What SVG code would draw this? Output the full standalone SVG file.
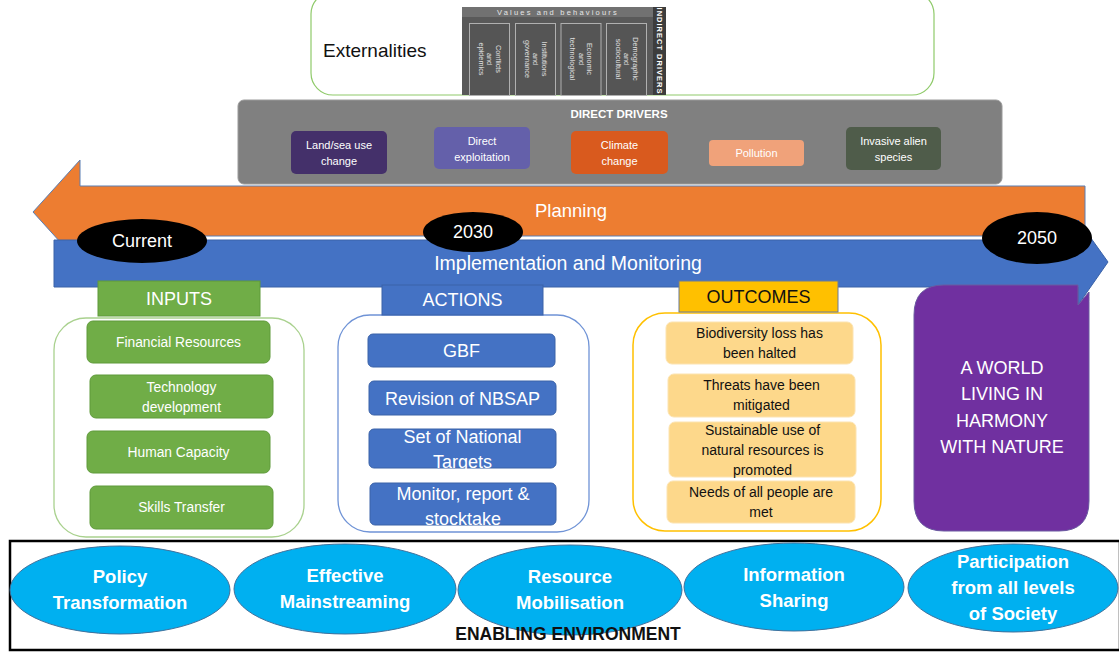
<svg xmlns="http://www.w3.org/2000/svg" width="1119" height="652" viewBox="0 0 1119 652">
<style>
text{font-family:"Liberation Sans",Arial,sans-serif}
.w{fill:#fff}
.dd{font-size:11px;fill:#fff;text-anchor:middle}
.ind{font-size:7.3px;fill:#e0e0e0;text-anchor:middle;dominant-baseline:central}
.inb{fill:#555;stroke:#b0b0b0;stroke-width:1}
.gin{fill:#70ad47;stroke:#5f9a3a;stroke-width:1}
.ain{fill:#4472c4;stroke:#3a62a8;stroke-width:1}
.oin{fill:#fdd88b;stroke:#fce3b0;stroke-width:1}
.t14{font-size:13.8px;fill:#fff;text-anchor:middle}
.t17{font-size:18px;fill:#fff;text-anchor:middle}
.t13{font-size:14px;fill:#111;text-anchor:middle}
.ell{fill:#00b0f0;stroke:#41719c;stroke-width:1}
.eb{font-size:18.5px;font-weight:bold;fill:#fff;text-anchor:middle}
.blk{fill:#000}
.yr{font-size:18px;fill:#fff;text-anchor:middle}
</style>

<g id="externalities">
<rect x="311" y="-8" width="623" height="103" rx="22" fill="#fff" stroke="#8fca6a" stroke-width="1.2"/>
<text x="323" y="57" font-size="19" fill="#111">Externalities</text>
</g>

<g id="indirect-drivers">
<rect x="462" y="7" width="204" height="88" fill="#595959"/>
<rect x="462" y="7" width="191" height="10" fill="#717171"/>
<rect x="653" y="7" width="13" height="88" fill="#3d3d3d"/>
<text x="558" y="14.5" font-size="7.5" fill="#e6e6e6" text-anchor="middle" letter-spacing="2.2">Values and behaviours</text>
<text transform="translate(659.5,51) rotate(90)" font-size="7.5" font-weight="bold" fill="#fff" text-anchor="middle" dominant-baseline="central" letter-spacing="1">INDIRECT DRIVERS</text>
<rect class="inb" x="469.5" y="23.5" width="40" height="72"/>
<rect class="inb" x="515.5" y="23.5" width="40" height="72"/>
<rect class="inb" x="561" y="23.5" width="40" height="72"/>
<rect class="inb" x="606.5" y="23.5" width="40" height="72"/>
<g transform="translate(489.5,59) rotate(90)"><text class="ind" y="-8.5">Conflicts</text><text class="ind" y="0">and</text><text class="ind" y="8.5">epidemics</text></g>
<g transform="translate(535.5,59) rotate(90)"><text class="ind" y="-8.5">Institutions</text><text class="ind" y="0">and</text><text class="ind" y="8.5">governance</text></g>
<g transform="translate(581,59) rotate(90)"><text class="ind" y="-8.5">Economic</text><text class="ind" y="0">and</text><text class="ind" y="8.5">technological</text></g>
<g transform="translate(626.5,59) rotate(90)"><text class="ind" y="-8.5">Demographic</text><text class="ind" y="0">and</text><text class="ind" y="8.5">sociocultural</text></g>
</g>

<g id="direct-drivers">
<rect x="238" y="100" width="764" height="84" rx="6" fill="#808080" stroke="#9a9a9a" stroke-width="1"/>
<text x="619" y="118" font-size="11.5" font-weight="bold" fill="#fff" text-anchor="middle">DIRECT DRIVERS</text>
<rect x="291" y="131" width="96" height="43" rx="5" fill="#44306a"/>
<text class="dd" x="339" y="149">Land/sea use</text><text class="dd" x="339" y="165">change</text>
<rect x="434" y="127" width="96" height="42" rx="5" fill="#6460aa"/>
<text class="dd" x="482" y="145">Direct</text><text class="dd" x="482" y="161">exploitation</text>
<rect x="571" y="131" width="97" height="43" rx="5" fill="#d95a1e"/>
<text class="dd" x="619.5" y="149">Climate</text><text class="dd" x="619.5" y="165">change</text>
<rect x="709" y="140" width="95" height="26" rx="4" fill="#f0a27a"/>
<text class="dd" x="756.5" y="157">Pollution</text>
<rect x="846" y="127" width="95" height="43" rx="5" fill="#4f5c4a"/>
<text class="dd" x="893.5" y="145">Invasive alien</text><text class="dd" x="893.5" y="161">species</text>
</g>

<g id="connectors">
<g id="planning-arrow">
<path d="M1085,186 L80,186 L80,160 L33,212 L80,264 L80,236 L1085,236 Z" fill="#ed7d31" stroke="#5b7fb3" stroke-width="1"/>
<text class="w" x="571" y="217" font-size="18.5" text-anchor="middle">Planning</text>
</g>
<g id="implementation-arrow">
<path d="M54,240 L1078,240 L1078,220 L1108,262 L1078,305 L1078,287 L54,287 Z" fill="#4472c4" stroke="#3a62a8" stroke-width="1"/>
<text class="w" x="568" y="270" font-size="19.5" text-anchor="middle">Implementation and Monitoring</text>
</g>
</g>

<g id="current">
<ellipse class="blk" cx="142" cy="241" rx="65" ry="22"/>
<text class="yr" x="142" y="247">Current</text>
</g>
<g id="y2030">
<ellipse class="blk" cx="473" cy="232" rx="50" ry="20"/>
<text class="yr" x="473" y="238">2030</text>
</g>
<g id="y2050">
<ellipse class="blk" cx="1037" cy="238" rx="55" ry="26"/>
<text class="yr" x="1037" y="244">2050</text>
</g>

<g id="inputs">
<rect x="54" y="318" width="250" height="219" rx="32" fill="#fff" stroke="#a9d18e" stroke-width="1.3"/>
<rect x="98" y="281" width="162" height="35" fill="#70ad47" stroke="#5f9a3a" stroke-width="1"/>
<text class="t17" x="179" y="305">INPUTS</text>
<rect class="gin" x="87" y="321" width="183" height="42" rx="6"/>
<text class="t14" x="178.5" y="347">Financial Resources</text>
<rect class="gin" x="90" y="375" width="183" height="43" rx="6"/>
<text class="t14" x="181.5" y="392">Technology</text><text class="t14" x="181.5" y="412">development</text>
<rect class="gin" x="87" y="431" width="183" height="42" rx="6"/>
<text class="t14" x="178.5" y="457">Human Capacity</text>
<rect class="gin" x="90" y="486" width="183" height="43" rx="6"/>
<text class="t14" x="181.5" y="512">Skills Transfer</text>
</g>

<g id="actions">
<rect x="338" y="315" width="251" height="217" rx="32" fill="#fff" stroke="#6f93d6" stroke-width="1.3"/>
<rect x="382" y="285" width="161" height="30" fill="#4472c4" stroke="#3a62a8" stroke-width="1"/>
<text class="t17" x="462.5" y="306">ACTIONS</text>
<rect class="ain" x="368" y="334" width="187" height="33" rx="5"/>
<text class="t17" x="461.5" y="357">GBF</text>
<rect class="ain" x="369" y="381" width="187" height="34" rx="5"/>
<text class="t17" x="462.5" y="405">Revision of NBSAP</text>
<rect class="ain" x="369" y="429" width="187" height="39" rx="5"/>
<text class="t17" x="462.5" y="443">Set of National</text><text class="t17" x="462.5" y="468">Targets</text>
<rect class="ain" x="370" y="483" width="186" height="42" rx="5"/>
<text class="t17" x="463" y="500">Monitor, report &amp;</text><text class="t17" x="463" y="525">stocktake</text>
</g>

<g id="outcomes">
<rect x="633" y="313" width="248" height="218" rx="32" fill="#fff" stroke="#ffc000" stroke-width="1.5"/>
<rect x="679" y="281" width="159" height="31" fill="#ffc000" stroke="#6b7a99" stroke-width="1"/>
<text x="758.5" y="303" font-size="18" fill="#111" text-anchor="middle">OUTCOMES</text>
<rect class="oin" x="666" y="322" width="187" height="42" rx="6"/>
<text class="t13" x="759.5" y="338">Biodiversity loss has</text><text class="t13" x="759.5" y="358">been halted</text>
<rect class="oin" x="668" y="374" width="187" height="43" rx="6"/>
<text class="t13" x="761.5" y="390">Threats have been</text><text class="t13" x="761.5" y="410">mitigated</text>
<rect class="oin" x="669" y="422" width="187" height="55" rx="6"/>
<text class="t13" x="762.5" y="435">Sustainable use of</text><text class="t13" x="762.5" y="455">natural resources is</text><text class="t13" x="762.5" y="475">promoted</text>
<rect class="oin" x="667" y="481" width="188" height="42" rx="6"/>
<text class="t13" x="761" y="497">Needs of all people are</text><text class="t13" x="761" y="517">met</text>
</g>

<g id="vision">
<path d="M944,285 L1078,285 L1078,305 L1089,292 Q1089,300 1089,315 L1089,501 Q1089,531 1059,531 L944,531 Q914,531 914,501 L914,315 Q914,285 944,285 Z" fill="#7030a0" stroke="#6a5aa0" stroke-width="1"/>
<text class="t17" x="1002" y="374">A WORLD</text>
<text class="t17" x="1002" y="400">LIVING IN</text>
<text class="t17" x="1002" y="427">HARMONY</text>
<text class="t17" x="1002" y="453">WITH NATURE</text>
</g>

<g id="enabling-environment">
<rect x="10" y="541" width="1110" height="109" fill="#fff" stroke="#000" stroke-width="2.5"/>
<g id="policy"><ellipse class="ell" cx="120" cy="590" rx="110" ry="44"/>
<text class="eb" x="120" y="583">Policy</text><text class="eb" x="120" y="609">Transformation</text></g>
<g id="mainstreaming"><ellipse class="ell" cx="345" cy="589" rx="111" ry="45"/>
<text class="eb" x="345" y="582">Effective</text><text class="eb" x="345" y="608">Mainstreaming</text></g>
<g id="mobilisation"><ellipse class="ell" cx="570" cy="590" rx="112" ry="45"/>
<text class="eb" x="570" y="583">Resource</text><text class="eb" x="570" y="609">Mobilisation</text></g>
<g id="information"><ellipse class="ell" cx="794" cy="587" rx="110" ry="44"/>
<text class="eb" x="794" y="581">Information</text><text class="eb" x="794" y="607">Sharing</text></g>
<g id="participation"><ellipse class="ell" cx="1013" cy="588" rx="105" ry="44"/>
<text class="eb" x="1013" y="568">Participation</text><text class="eb" x="1013" y="594">from all levels</text><text class="eb" x="1013" y="620">of Society</text></g>
<text x="568" y="640" font-size="17.5" font-weight="bold" fill="#111" text-anchor="middle">ENABLING ENVIRONMENT</text>
</g>
</svg>
